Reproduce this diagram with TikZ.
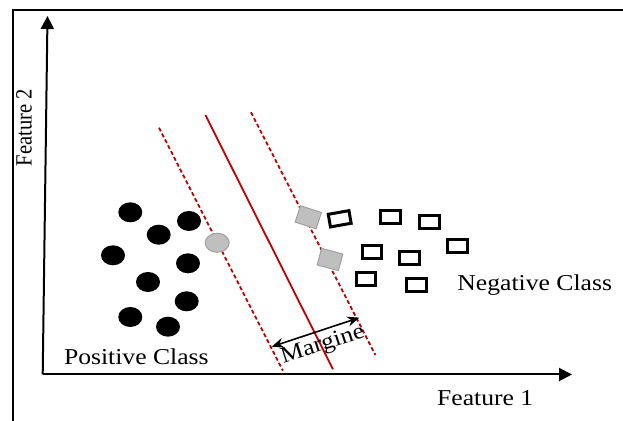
\documentclass[tikz,border=0pt]{standalone}
\usepackage{fontspec}
\setmainfont{Liberation Serif}
\usetikzlibrary{arrows.meta,shapes.geometric}
\definecolor{hyper}{RGB}{190,0,0}
\definecolor{svfill}{RGB}{191,191,191}
\definecolor{svedge}{RGB}{160,160,160}
% slightly widened lettering
\newcommand{\wide}[1]{\scalebox{1.13}[1]{#1}}
\newcommand{\tall}[1]{\scalebox{1}[1.13]{#1}}

\begin{document}
\begin{tikzpicture}[x=0.5pt,y=-0.5pt,
  framerule/.style={line width=1pt},
  axisarrow/.style={line width=1pt,-{Triangle[length=6.5pt,width=6.5pt]}},
  posdot/.style={ellipse,fill=black,minimum width=12pt,minimum height=10pt,inner sep=0pt},
  possv/.style={ellipse,fill=svfill,draw=svedge,line width=0.5pt,minimum width=12pt,minimum height=9.5pt,inner sep=0pt},
  negbox/.style={rectangle,draw=black,line width=1.5pt,minimum width=9.8pt,minimum height=6.4pt,inner sep=0pt},
  negsv/.style={rectangle,fill=svfill,draw=svedge,line width=0.5pt,minimum width=11pt,minimum height=8.6pt,inner sep=0pt},
  hyperplane/.style={hyper,line width=0.9pt},
  marginline/.style={hyper,line width=0.9pt,dash pattern=on 2pt off 1.3pt},
  marginarrow/.style={black,line width=0.8pt,{Stealth[length=6pt,width=5pt]}-{Stealth[length=6pt,width=5pt]}},
  lbl/.style={font=\fontsize{11.35}{13}\selectfont,inner sep=0pt},
  lblsmall/.style={font=\fontsize{10.3}{12}\selectfont,inner sep=0pt},
]
\useasboundingbox (0,0) rectangle (623,421);

% outer frame
\coordinate (fBL) at (12.8,421);
\coordinate (fTL) at (12.8,10);
\coordinate (fTR) at (623,10);
\draw[framerule] (fBL) -- (fTL) -- (fTR);

% axes
\coordinate (O) at (42.7,374.5);
\coordinate (ytip) at (47.5,16);
\coordinate (xtip) at (572,374.5);
\draw[axisarrow] (O) -- (ytip);
\draw[axisarrow] (O) -- (xtip);

% separating hyperplane and margin boundaries
\coordinate (l1) at (159,127.7);   \coordinate (l2) at (282.9,370.7);
\coordinate (h1) at (205.4,115);   \coordinate (h2) at (333,369.3);
\coordinate (r1) at (251,112.3);   \coordinate (r2) at (375.4,355);
\draw[marginline] (l1) -- (l2);
\draw[hyperplane] (h1) -- (h2);
\draw[marginline] (r1) -- (r2);

% positive class
\node[posdot] (p1) at (130.3,212.3) {};
\node[posdot] (p2) at (189,221) {};
\node[posdot] (p3) at (158.7,234.7) {};
\node[posdot] (p4) at (113,255.3) {};
\node[posdot] (p5) at (188,263.3) {};
\node[posdot] (p6) at (148,282) {};
\node[posdot] (p7) at (186.7,301.3) {};
\node[posdot] (p8) at (130.3,317) {};
\node[posdot] (p9) at (168,326.7) {};
\node[possv] (ps) at (217.2,242.8) {};

% negative class
\node[negsv,rotate=-18] (g1) at (308.3,217.3) {};
\node[negsv,rotate=-15] (g2) at (330,259.5) {};
\node[negbox,rotate=10,minimum width=10.5pt] (n1) at (339.7,218.8) {};
\node[negbox] (n2) at (390.7,217.3) {};
\node[negbox] (n3) at (429.3,222.3) {};
\node[negbox] (n4) at (457.3,245.7) {};
\node[negbox] (n5) at (372,251.7) {};
\node[negbox] (n6) at (409.3,258.3) {};
\node[negbox] (n7) at (366,279.3) {};
\node[negbox] (n8) at (416.3,285) {};

% margin width
\coordinate (mA) at (271.7,346.7);
\coordinate (mB) at (359.3,317.7);
\draw[marginarrow] (mA) -- (mB);
\node[lbl,rotate=18,anchor=base west] (mg) at (283,363.5) {\wide{Margine}};

% labels
\node[lbl,anchor=base west] (pc) at (63.6,365) {\wide{Positive Class}};
\node[lbl,anchor=base west] (nc) at (457,290.5) {\wide{Negative Class}};
\node[lbl,anchor=base west] (f1) at (436.7,406) {\wide{Feature 1}};
\node[lblsmall,rotate=90,anchor=base west] (f2) at (31.7,166.7) {\tall{Feature 2}};
\end{tikzpicture}
\end{document}
